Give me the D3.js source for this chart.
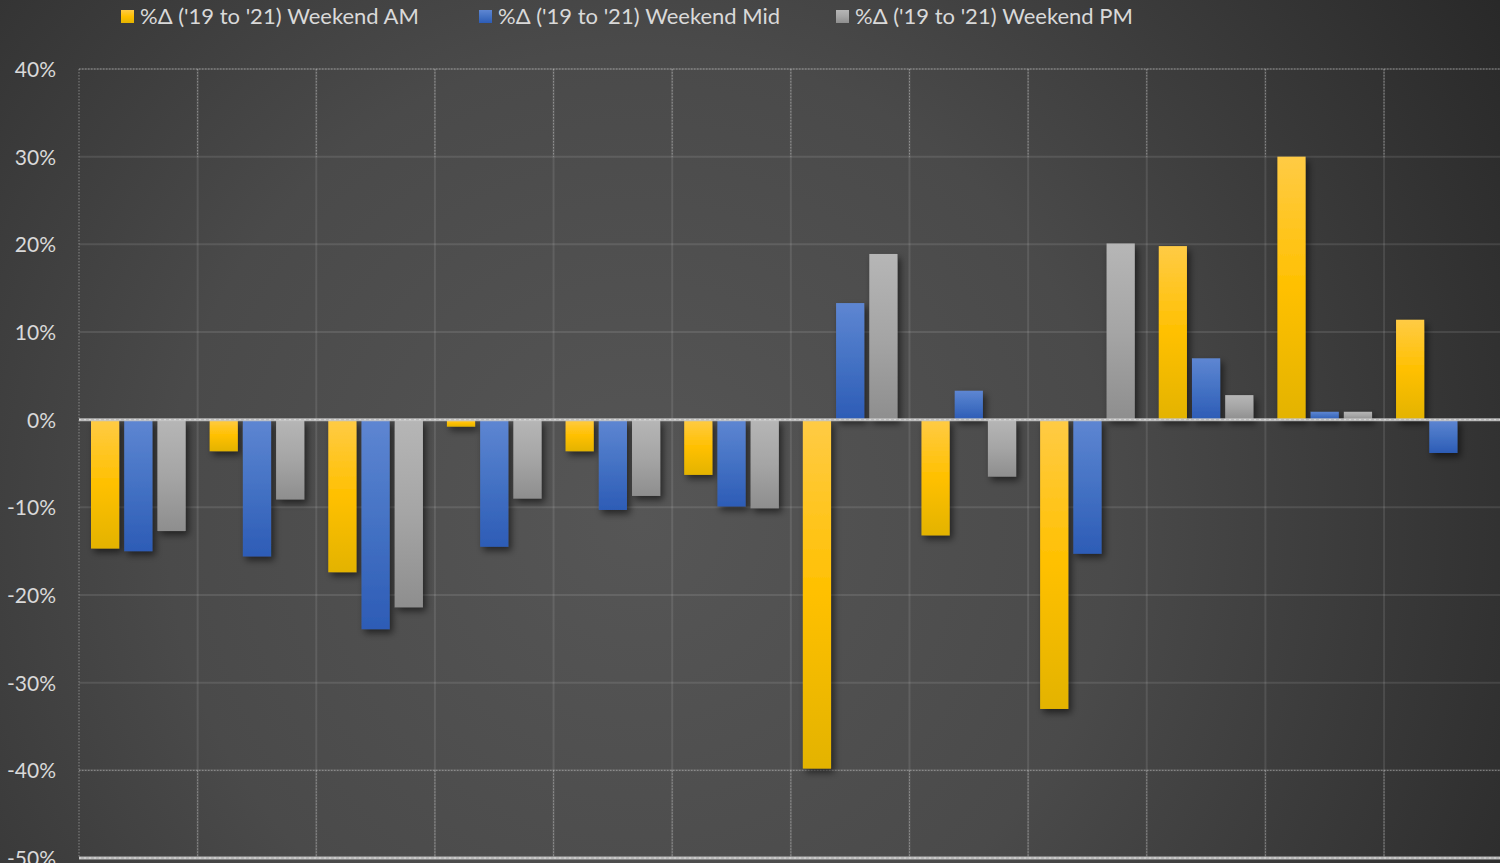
<!DOCTYPE html>
<html><head><meta charset="utf-8">
<script src="https://cdn.jsdelivr.net/npm/d3@7"></script>
<style>html,body{margin:0;padding:0;background:#333;overflow:hidden}svg{display:block}</style>
</head><body>
<svg id="chart" width="1500" height="863"></svg>
<script>
const categories = ["1","2","3","4","5","6","7","8","9","10","11","12"];
const seriesNames = ["%Δ ('19 to '21) Weekend AM","%Δ ('19 to '21) Weekend Mid","%Δ ('19 to '21) Weekend PM"];
const weekendAM  = [-14.7, -3.6, -17.4, -0.8, -3.6, -6.3, -39.8, -13.2, -33.0, 19.8, 30.0, 11.4];
const weekendMid = [-15.0, -15.6, -23.9, -14.5, -10.3, -9.9, 13.3, 3.3, -15.3, 7.0, 0.9, -3.8];
const weekendPM  = [-12.7, -9.1, -21.4, -9.0, -8.7, -10.1, 18.9, -6.5, 20.1, 2.8, 0.9, null];
const yTicks = [40, 30, 20, 10, 0, -10, -20, -30, -40, -50];

const W = 1500, H = 863;
const svg = d3.select("#chart");
const defs = svg.append("defs");

const bg = defs.append("radialGradient").attr("id","bg").attr("gradientUnits","userSpaceOnUse")
  .attr("cx",640).attr("cy",520).attr("r",1050);
bg.append("stop").attr("offset","0").attr("stop-color","#565656");
bg.append("stop").attr("offset","0.45").attr("stop-color","#4a4a4a");
bg.append("stop").attr("offset","1").attr("stop-color","#262626");
svg.append("rect").attr("width",W).attr("height",H).attr("fill","url(#bg)");

const palettes = [
  ["#FFCB45","#FFC000","#E3B300"],
  ["#5E86D2","#4472C4","#2D5CB6"],
  ["#B6B6B6","#A5A5A5","#8E8E8E"]
];
palettes.forEach((p,i)=>{
  const g = defs.append("linearGradient").attr("id","g"+i).attr("x1",0).attr("y1",0).attr("x2",0).attr("y2",1);
  g.append("stop").attr("offset","0").attr("stop-color",p[0]);
  g.append("stop").attr("offset","0.5").attr("stop-color",p[1]);
  g.append("stop").attr("offset","1").attr("stop-color",p[2]);
});
const f = defs.append("filter").attr("id","shadow").attr("x","-30%").attr("y","-30%").attr("width","160%").attr("height","160%");
f.append("feDropShadow").attr("dx",3).attr("dy",4).attr("stdDeviation",3.5).attr("flood-color","#000").attr("flood-opacity",0.55);

const x0 = d3.scaleBand().domain(categories).range([79, 79 + 12*118.64]).padding(0);
const bw = x0.bandwidth();
const x1 = d3.scaleBand().domain([0,1,2]).range([12, bw-12]).paddingInner(0.152);
const y = d3.scaleLinear().domain([-50, 40]).range([858, 69]);

const grid = svg.append("g");
grid.selectAll(".hg").data(yTicks.filter(t=>t!==0 && t!==-50)).join("line")
  .attr("x1",79).attr("x2",W).attr("y1",d=>y(d)).attr("y2",d=>y(d))
  .attr("stroke","#ffffff").attr("stroke-opacity",0.1).attr("stroke-width",2);
const vx = categories.map(c=>x0(c));
grid.selectAll(".vg").data(vx.slice(1)).join("line")
  .attr("x1",d=>d).attr("x2",d=>d).attr("y1",y(40)).attr("y2",y(-50))
  .attr("stroke","#ffffff").attr("stroke-opacity",0.1).attr("stroke-width",2);
const dot = {stroke:"#bdbdbd", op:0.55, dash:"1.5,1.5"};
[40,-40].forEach(t=>{
  grid.append("line").attr("x1",79).attr("x2",W).attr("y1",y(t)).attr("y2",y(t))
    .attr("stroke",dot.stroke).attr("stroke-opacity",dot.op).attr("stroke-dasharray",dot.dash);
});
vx.forEach((v,i)=>{
  if(i===0){
    grid.append("line").attr("x1",v).attr("x2",v).attr("y1",y(40)).attr("y2",y(-50))
      .attr("stroke",dot.stroke).attr("stroke-opacity",dot.op).attr("stroke-dasharray",dot.dash);
  } else {
    [[40,30],[-40,-50]].forEach(([a,b])=>{
      grid.append("line").attr("x1",v).attr("x2",v).attr("y1",y(a)).attr("y2",y(b))
        .attr("stroke",dot.stroke).attr("stroke-opacity",dot.op).attr("stroke-dasharray",dot.dash);
    });
  }
});

const yAxis = d3.axisLeft(y).tickValues(yTicks).tickFormat(d=>d+"%").tickSize(0).tickPadding(0);
const ya = svg.append("g").attr("transform","translate(56,0)").call(yAxis);
ya.select(".domain").remove();
ya.selectAll("text").attr("fill","#d9d9d9").attr("font-family","Lato, 'Open Sans', sans-serif")
  .attr("font-size",21).attr("dy","0.35em");

const series = [weekendAM, weekendMid, weekendPM];
const barsG = svg.append("g").attr("filter","url(#shadow)");
series.forEach((vals,si)=>{
  barsG.selectAll(".b"+si).data(vals.map((v,i)=>({v,c:categories[i]})).filter(d=>d.v!==null)).join("rect")
    .attr("x",d=>x0(d.c)+x1(si))
    .attr("width",x1.bandwidth())
    .attr("y",d=>Math.min(y(d.v),y(0)))
    .attr("height",d=>Math.abs(y(d.v)-y(0)))
    .attr("fill","url(#g"+si+")");
});

[0,-50].forEach(t=>{
  svg.append("line").attr("x1",79).attr("x2",W).attr("y1",y(t)).attr("y2",y(t))
    .attr("stroke","#c4c4c4").attr("stroke-width",3).attr("stroke-opacity",0.9);
  svg.append("line").attr("x1",79).attr("x2",W).attr("y1",y(t)).attr("y2",y(t))
    .attr("stroke","#e6e6e6").attr("stroke-width",1).attr("stroke-dasharray","2,3").attr("stroke-opacity",0.8);
});

const legendX = [121, 479, 836];
const lg = svg.append("g");
seriesNames.forEach((n,i)=>{
  lg.append("rect").attr("x",legendX[i]).attr("y",10).attr("width",13).attr("height",13).attr("fill","url(#g"+i+")");
  lg.append("text").attr("x",legendX[i]+19).attr("y",24).text(n)
    .attr("fill","#d9d9d9").attr("font-family","Lato, 'Open Sans', sans-serif").attr("font-size",22);
});
</script>
</body></html>
